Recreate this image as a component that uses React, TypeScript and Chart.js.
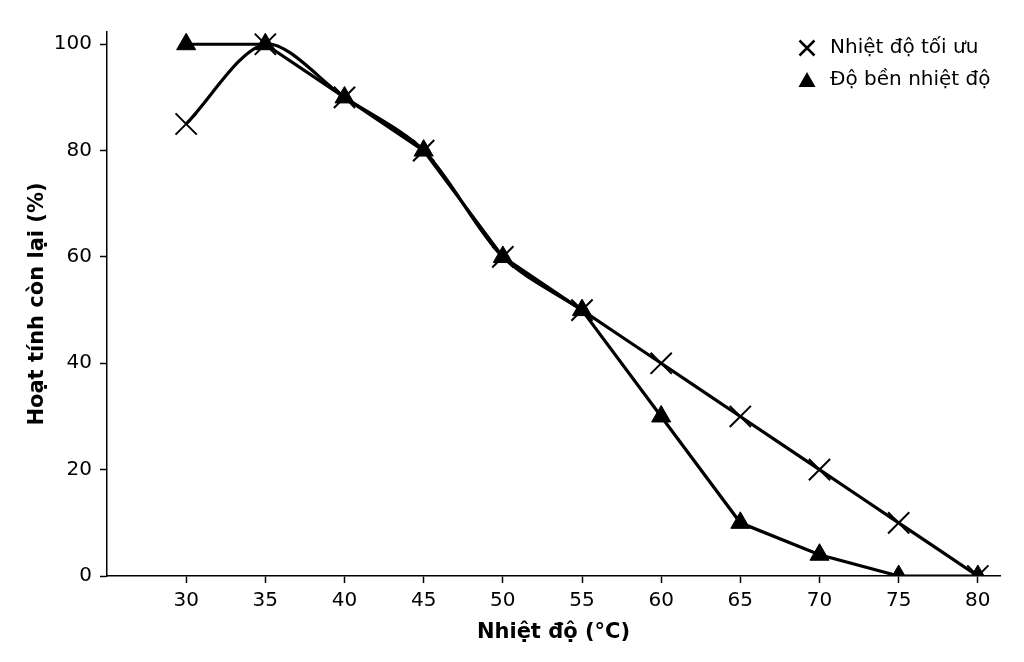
import React, { useEffect, useRef } from "react";
import { Chart, registerables } from "chart.js";

Chart.register(...registerables);

// Temperatures (°C) on the x axis
const temperatures = [30, 35, 40, 45, 50, 55, 60, 65, 70, 75, 80];
// Residual activity (%) — optimum temperature series (× markers)
const optimumActivity = [85, 100, 90, 80, 60, 50, 40, 30, 20, 10, 0];
// Residual activity (%) — thermal stability series (▲ markers)
const stabilityActivity = [100, 100, 90, 80, 60, 50, 30, 10, 4, 0, 0];

const seriesLabels = ["Nhiệt độ tối ưu", "Độ bền nhiệt độ"];
const xTickValues = [30, 35, 40, 45, 50, 55, 60, 65, 70, 75, 80];
const yTickValues = [0, 20, 40, 60, 80, 100];
const xAxisTitle = "Nhiệt độ (°C)";
const yAxisTitle = "Hoạt tính còn lại (%)";

const FONT = "'DejaVu Sans', sans-serif";

// Draws the marker-only legend inside the top-right corner of the plot area.
const insetLegend = {
  id: "insetLegend",
  afterDraw(chart: any) {
    const { ctx, chartArea } = chart;
    const markerX = chartArea.right - 193;
    const textX = chartArea.right - 170;
    const rowY = [chartArea.top + 16, chartArea.top + 48];
    ctx.save();
    ctx.fillStyle = "#000";
    ctx.strokeStyle = "#000";
    ctx.font = `20px ${FONT}`;
    ctx.textBaseline = "middle";
    ctx.textAlign = "left";
    chart.data.datasets.forEach((ds: any, i: number) => {
      const y = rowY[i];
      if (ds.pointStyle === "crossRot") {
        const h = 7.5;
        ctx.lineWidth = 2.5;
        ctx.beginPath();
        ctx.moveTo(markerX - h, y - h);
        ctx.lineTo(markerX + h, y + h);
        ctx.moveTo(markerX + h, y - h);
        ctx.lineTo(markerX - h, y + h);
        ctx.stroke();
      } else {
        ctx.beginPath();
        ctx.moveTo(markerX, y - 8);
        ctx.lineTo(markerX + 8.5, y + 7);
        ctx.lineTo(markerX - 8.5, y + 7);
        ctx.closePath();
        ctx.fill();
      }
      ctx.fillText(ds.label, textX, y);
    });
    ctx.restore();
  },
};

export default function App() {
  const canvasRef = useRef<HTMLCanvasElement | null>(null);

  useEffect(() => {
    document.body.style.margin = "0";
    const canvas = canvasRef.current;
    if (!canvas) return;

    const chart = new Chart(canvas, {
      type: "line",
      data: {
        datasets: [
          {
            label: seriesLabels[0],
            data: temperatures.map((t, i) => ({ x: t, y: optimumActivity[i] })),
            borderColor: "#000",
            borderWidth: 3.2,
            tension: 0.3,
            pointStyle: "crossRot",
            pointRadius: 15,
            pointBorderWidth: 2,
            pointBorderColor: "#000",
            pointBackgroundColor: "#000",
            fill: false,
          },
          {
            label: seriesLabels[1],
            data: temperatures.map((t, i) => ({ x: t, y: stabilityActivity[i] })),
            borderColor: "#000",
            borderWidth: 3.2,
            tension: 0,
            pointStyle: "triangle",
            pointRadius: 11,
            pointBorderWidth: 1,
            pointBorderColor: "#000",
            pointBackgroundColor: "#000",
            fill: false,
          },
        ],
      },
      options: {
        responsive: true,
        maintainAspectRatio: false,
        animation: false,
        events: [],
        layout: { padding: { left: 0, top: 32, right: 24, bottom: 0 } },
        plugins: {
          legend: { display: false },
          tooltip: { enabled: false },
        },
        scales: {
          x: {
            type: "linear",
            min: 25,
            max: 81.4,
            afterBuildTicks: (scale: any) => {
              scale.ticks = xTickValues.map((v) => ({ value: v }));
            },
            afterFit: (scale: any) => {
              scale.height = 86;
            },
            grid: {
              display: true,
              drawOnChartArea: false,
              drawTicks: true,
              tickLength: 7,
              tickWidth: 1.5,
              tickColor: "#000",
            },
            border: { display: true, color: "#000", width: 1.5 },
            ticks: {
              color: "#000",
              font: { family: FONT, size: 20 },
              padding: 6,
              maxRotation: 0,
              autoSkip: false,
            },
            title: {
              display: true,
              text: xAxisTitle,
              color: "#000",
              font: { family: FONT, size: 21, weight: "bold" },
              padding: { top: 0, bottom: 17 },
            },
          },
          y: {
            type: "linear",
            min: 0,
            max: 102.3,
            afterBuildTicks: (scale: any) => {
              scale.ticks = yTickValues.map((v) => ({ value: v }));
            },
            afterFit: (scale: any) => {
              scale.width = 107;
            },
            grid: {
              display: true,
              drawOnChartArea: false,
              drawTicks: true,
              tickLength: 7,
              tickWidth: 1.5,
              tickColor: "#000",
            },
            border: { display: true, color: "#000", width: 1.5 },
            ticks: {
              color: "#000",
              font: { family: FONT, size: 20 },
              padding: 8,
            },
            title: {
              display: true,
              text: yAxisTitle,
              color: "#000",
              font: { family: FONT, size: 21, weight: "bold" },
              padding: { top: 25, bottom: 0 },
            },
          },
        },
      },
      plugins: [insetLegend],
    });

    return () => chart.destroy();
  }, []);

  return (
    <div style={{ position: "fixed", left: 0, top: 0, width: 1024, height: 662, background: "#fff" }}>
      <canvas ref={canvasRef} />
    </div>
  );
}
